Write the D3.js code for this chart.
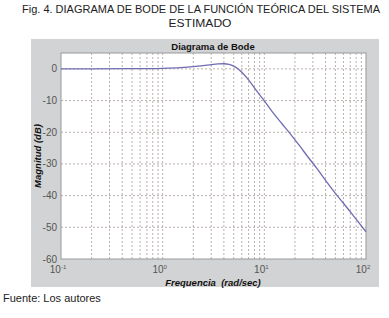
<!DOCTYPE html>
<html>
<head>
<meta charset="utf-8">
<script src="https://cdn.jsdelivr.net/npm/d3@7"></script>
<style>
  body { margin: 0; background: #fff; }
  svg { display: block; }
</style>
</head>
<body>
<svg id="chart" width="389" height="318"></svg>
<script>
// frequencies (rad/sec) and magnitude (dB)
const freq = [0.1, 0.2, 0.5, 1, 1.5, 2, 2.5, 3, 3.5, 4, 4.5, 5, 5.5, 6, 7, 8, 9, 10, 12, 15, 18, 22, 27, 33, 40, 50, 60, 75, 100]
const magDb = [0, 0.01, 0.05, 0.18, 0.39, 0.67, 0.99, 1.31, 1.55, 1.61, 1.4, 0.85, 0, -1.1, -3.5, -6, -8.2, -10.1, -13.6, -17.4, -20.5, -24.1, -27.9, -31.5, -35.2, -39.3, -42.4, -46.3, -51.4]

const yTicks = [0, -10, -20, -30, -40, -50, -60]
const xDecades = [0.1, 1, 10, 100]
const xExponents = ['-1', '0', '1', '2']

const headerLines = ['Fig. 4. DIAGRAMA DE BODE DE LA FUNCIÓN TEÓRICA DEL SISTEMA', 'ESTIMADO']
const sourceText = 'Fuente: Los autores'
const plotTitle = 'Diagrama de Bode'
const xLabel = 'Frequencia  (rad/sec)'
const yLabel = 'Magnitud (dB)'

const svg = d3.select('#chart')

// header
svg.append('text')
  .attr('x', 22).attr('y', 13)
  .attr('textLength', 358).attr('lengthAdjust', 'spacingAndGlyphs')
  .style('font-family', 'Liberation Sans, Arial, sans-serif')
  .style('font-size', '11px')
  .attr('fill', '#222')
  .text(headerLines[0])
svg.append('text')
  .attr('x', 200).attr('y', 27)
  .attr('text-anchor', 'middle')
  .attr('textLength', 63).attr('lengthAdjust', 'spacingAndGlyphs')
  .style('font-family', 'Liberation Sans, Arial, sans-serif')
  .style('font-size', '11px')
  .attr('fill', '#222')
  .text(headerLines[1])

// gray figure panel
svg.append('rect')
  .attr('x', 31).attr('y', 39)
  .attr('width', 348).attr('height', 248)
  .attr('fill', '#d1d3d4')

const MARGIN = { left: 61, top: 53, right: 366, bottom: 259 }

const x = d3.scaleLog()
  .domain([0.1, 100])
  .range([MARGIN.left, MARGIN.right])
const y = d3.scaleLinear()
  .domain([-60, 5])
  .range([MARGIN.bottom, MARGIN.top])

const $plot = svg.append('g')

$plot.append('rect')
  .attr('x', MARGIN.left).attr('y', MARGIN.top)
  .attr('width', MARGIN.right - MARGIN.left)
  .attr('height', MARGIN.bottom - MARGIN.top)
  .attr('fill', '#fff')

// vertical grid, decades + minor
const gridX = []
xDecades.slice(0, -1).forEach(d => {
  for (let k = 1; k <= 9; k++) gridX.push(d * k)
})
gridX.push(100)

$plot.selectAll('.grid-x')
  .data(gridX.filter(v => v > 0.1 && v < 100))
  .enter()
  .append('line')
  .attr('class', 'grid-x')
  .attr('x1', d => x(d)).attr('x2', d => x(d))
  .attr('y1', MARGIN.top).attr('y2', MARGIN.bottom)
  .attr('stroke', '#b9b0ae')
  .attr('stroke-width', 1)
  .attr('stroke-dasharray', '2,2')

$plot.selectAll('.grid-y')
  .data(yTicks.filter(v => v > -60))
  .enter()
  .append('line')
  .attr('class', 'grid-y')
  .attr('x1', MARGIN.left).attr('x2', MARGIN.right)
  .attr('y1', d => y(d)).attr('y2', d => y(d))
  .attr('stroke', '#b9b0ae')
  .attr('stroke-width', 1)
  .attr('stroke-dasharray', '2,2')

// frame
$plot.append('rect')
  .attr('x', MARGIN.left).attr('y', MARGIN.top)
  .attr('width', MARGIN.right - MARGIN.left)
  .attr('height', MARGIN.bottom - MARGIN.top)
  .attr('fill', 'none')
  .attr('stroke', '#9a9a9a')
  .attr('stroke-width', 1)

// y tick labels
$plot.selectAll('.ytick')
  .data(yTicks)
  .enter()
  .append('text')
  .attr('class', 'ytick')
  .attr('x', MARGIN.left - 4)
  .attr('y', d => y(d) + 3.5)
  .attr('text-anchor', 'end')
  .style('font-family', 'Liberation Sans, Arial, sans-serif')
  .style('font-size', '10px')
  .attr('fill', '#555')
  .text(d => d)

// x tick labels with superscripts
const $xt = $plot.selectAll('.xtick')
  .data(xDecades)
  .enter()
  .append('text')
  .attr('class', 'xtick')
  .attr('x', d => x(d) - 3)
  .attr('y', 273)
  .attr('text-anchor', 'middle')
  .style('font-family', 'Liberation Sans, Arial, sans-serif')
  .style('font-size', '10px')
  .attr('fill', '#555')
$xt.append('tspan').text('10')
$xt.append('tspan')
  .attr('dy', -4)
  .style('font-size', '6px')
  .text((d, i) => xExponents[i])

// magnitude curve
const line = d3.line()
  .x((d, i) => x(freq[i]))
  .y(d => y(d))
  .curve(d3.curveMonotoneX)

$plot.append('path')
  .datum(magDb)
  .attr('d', line)
  .attr('fill', 'none')
  .attr('stroke', '#6f6cb3')
  .attr('stroke-width', 1.3)

// labels
svg.append('text')
  .attr('x', 213).attr('y', 50)
  .attr('text-anchor', 'middle')
  .style('font-family', 'Liberation Sans, Arial, sans-serif')
  .style('font-size', '9.5px')
  .style('font-weight', 'bold')
  .attr('fill', '#111')
  .text(plotTitle)

svg.append('text')
  .attr('x', 213).attr('y', 286)
  .attr('text-anchor', 'middle')
  .style('font-family', 'Liberation Sans, Arial, sans-serif')
  .style('font-size', '9.5px')
  .style('font-weight', 'bold')
  .style('font-style', 'italic')
  .style('white-space', 'pre')
  .attr('fill', '#111')
  .text(xLabel)

svg.append('text')
  .attr('transform', 'translate(41,156) rotate(-90)')
  .attr('text-anchor', 'middle')
  .style('font-family', 'Liberation Sans, Arial, sans-serif')
  .style('font-size', '9.5px')
  .style('font-weight', 'bold')
  .style('font-style', 'italic')
  .attr('fill', '#111')
  .text(yLabel)

// source
svg.append('text')
  .attr('x', 3).attr('y', 302)
  .style('font-family', 'Liberation Sans, Arial, sans-serif')
  .style('font-size', '11px')
  .attr('fill', '#222')
  .text(sourceText)
</script>
</body>
</html>
